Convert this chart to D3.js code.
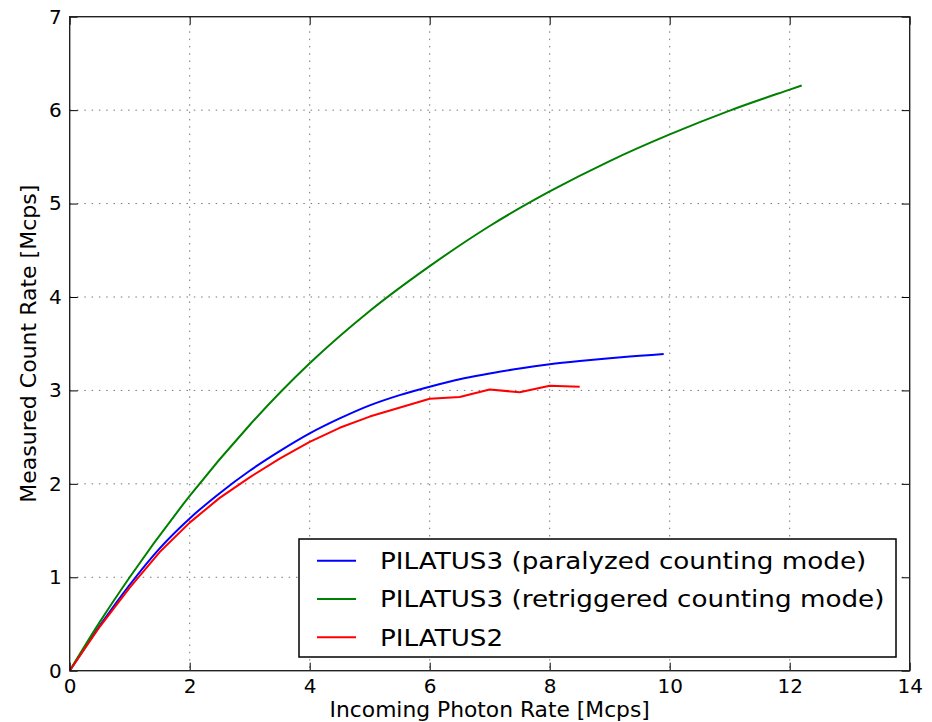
<!DOCTYPE html>
<html>
<head>
<meta charset="utf-8">
<script src="https://cdn.jsdelivr.net/npm/d3@7"></script>
<style>
  body { margin: 0; background: #fff; }
  svg { display: block; font-family: "DejaVu Sans", sans-serif; }
</style>
</head>
<body>
<svg width="932" height="722"></svg>
<script>
// Measured vs incoming count rate for PILATUS detectors

// incoming photon rate [Mcps] -> measured count rate [Mcps]
const xParalyzed = [0, 0.5, 1, 1.5, 2, 2.5, 3, 3.5, 4, 4.5, 5, 5.5, 6, 6.5, 7, 7.5, 8, 8.5, 9, 9.5, 9.9];
const yParalyzed = [0, 0.48, 0.92, 1.31, 1.63, 1.90, 2.14, 2.35, 2.54, 2.70, 2.84, 2.95, 3.04, 3.12, 3.18, 3.235, 3.28, 3.315, 3.345, 3.37, 3.39];

const xRetriggered = [0, 0.5, 1, 2, 3, 4, 5, 6, 7, 8, 9, 10, 11, 12, 12.2];
const yRetriggered = [0, 0.52, 1.00, 1.87, 2.63, 3.29, 3.85, 4.33, 4.76, 5.13, 5.455, 5.74, 5.995, 6.22, 6.264];

const xPilatus2 = [0, 0.5, 1, 1.5, 2, 2.5, 3, 3.5, 4, 4.5, 5, 6, 6.5, 7, 7.5, 8, 8.5];
const yPilatus2 = [0, 0.47, 0.89, 1.27, 1.585, 1.85, 2.07, 2.27, 2.45, 2.60, 2.72, 2.91, 2.93, 3.01, 2.98, 3.05, 3.04];

const seriesNames = [
  "PILATUS3 (paralyzed counting mode)",
  "PILATUS3 (retriggered counting mode)",
  "PILATUS2"
];
const seriesColors = ["#0000ff", "#008000", "#ff0000"];

const xTicks = [0, 2, 4, 6, 8, 10, 12, 14];
const yTicks = [0, 1, 2, 3, 4, 5, 6, 7];

const plotLeft = 69.7, plotRight = 909.7, plotTop = 16.7, plotBottom = 670.7;

const svg = d3.select("svg");

const x = d3.scaleLinear().domain([0, 14]).range([plotLeft, plotRight]);
const y = d3.scaleLinear().domain([0, 7]).range([plotBottom, plotTop]);

// grid
const grid = svg.append("g")
  .attr("stroke", "#777")
  .attr("stroke-width", 1)
  .attr("stroke-dasharray", "1.5,5.8");

grid.selectAll(".gx")
  .data(xTicks.slice(1, -1))
  .enter()
  .append("line")
  .attr("x1", (d) => x(d))
  .attr("x2", (d) => x(d))
  .attr("y1", plotTop)
  .attr("y2", plotBottom);

grid.selectAll(".gy")
  .data(yTicks.slice(1, -1))
  .enter()
  .append("line")
  .attr("x1", plotLeft)
  .attr("x2", plotRight)
  .attr("y1", (d) => y(d))
  .attr("y2", (d) => y(d));

// curves
const series = [
  { xs: xParalyzed, ys: yParalyzed, curve: d3.curveMonotoneX },
  { xs: xRetriggered, ys: yRetriggered, curve: d3.curveMonotoneX },
  { xs: xPilatus2, ys: yPilatus2, curve: d3.curveLinear }
];

series.forEach((s, i) => {
  const pts = s.xs.map((v, j) => [v, s.ys[j]]);
  const line = d3.line()
    .x((d) => x(d[0]))
    .y((d) => y(d[1]))
    .curve(s.curve);
  svg.append("path")
    .datum(pts)
    .attr("fill", "none")
    .attr("stroke", seriesColors[i])
    .attr("stroke-width", 2)
    .attr("stroke-linejoin", "round")
    .attr("d", line);
});

// axes
const styleAxis = (g) => {
  g.select(".domain").remove();
  g.selectAll(".tick line").attr("stroke", "#000").attr("stroke-width", 1);
  g.selectAll(".tick text")
    .attr("fill", "#000")
    .style("font-size", "20px")
    .style("font-family", "DejaVu Sans");
};

const fmt = d3.format("d");

svg.append("g")
  .attr("transform", "translate(0," + plotBottom + ")")
  .call(d3.axisBottom(x).tickValues(xTicks).tickFormat(fmt).tickSizeInner(-8).tickSizeOuter(0).tickPadding(8.6))
  .call(styleAxis);

svg.append("g")
  .attr("transform", "translate(" + plotLeft + ",0)")
  .call(d3.axisLeft(y).tickValues(yTicks).tickFormat(fmt).tickSizeInner(-8).tickSizeOuter(0).tickPadding(8))
  .call(styleAxis);

svg.append("g")
  .attr("transform", "translate(0," + plotTop + ")")
  .call(d3.axisTop(x).tickValues(xTicks).tickSizeInner(-8).tickSizeOuter(0).tickFormat(""))
  .call(styleAxis);

svg.append("g")
  .attr("transform", "translate(" + plotRight + ",0)")
  .call(d3.axisRight(y).tickValues(yTicks).tickSizeInner(-8).tickSizeOuter(0).tickFormat(""))
  .call(styleAxis);

// frame
svg.append("rect")
  .attr("x", plotLeft)
  .attr("y", plotTop)
  .attr("width", plotRight - plotLeft)
  .attr("height", plotBottom - plotTop)
  .attr("fill", "none")
  .attr("stroke", "#222")
  .attr("stroke-width", 1.4);

// axis labels
svg.append("text")
  .attr("x", (plotLeft + plotRight) / 2)
  .attr("y", 717)
  .attr("text-anchor", "middle")
  .style("font-size", "21.8px")
  .text("Incoming Photon Rate [Mcps]");

svg.append("text")
  .attr("transform", "translate(36," + (plotTop + plotBottom) / 2 + ") rotate(-90)")
  .attr("text-anchor", "middle")
  .style("font-size", "22px")
  .text("Measured Count Rate [Mcps]");

// legend
const legend = svg.append("g");
legend.append("rect")
  .attr("x", 299)
  .attr("y", 539)
  .attr("width", 597)
  .attr("height", 118)
  .attr("fill", "#fff")
  .attr("stroke", "#000")
  .attr("stroke-width", 1.5);

seriesNames.forEach((name, i) => {
  const ry = 560.7 + i * 38.3;
  legend.append("line")
    .attr("x1", 317)
    .attr("x2", 356)
    .attr("y1", ry)
    .attr("y2", ry)
    .attr("stroke", seriesColors[i])
    .attr("stroke-width", 2);
  legend.append("text")
    .attr("transform", "translate(380," + (ry + 8.4) + ") scale(1.13,1)")
    .style("font-size", "23.2px")
    .text(name);
});
</script>
</body>
</html>
